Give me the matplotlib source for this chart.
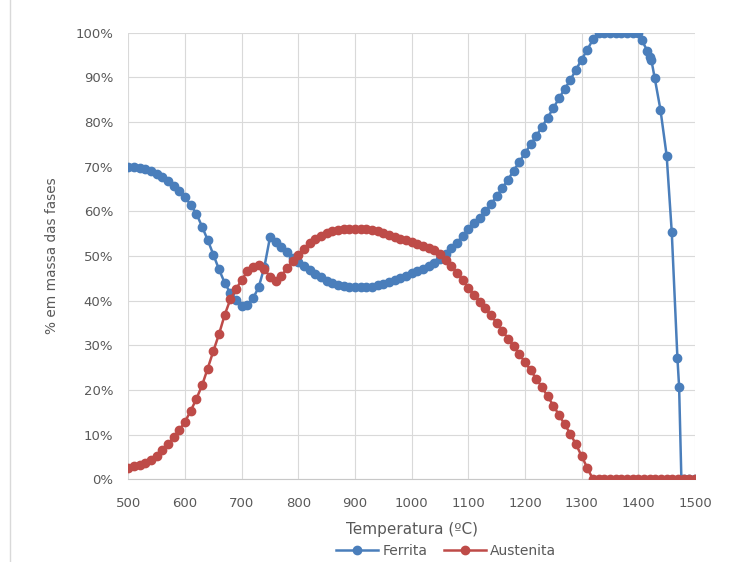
import matplotlib
matplotlib.use("Agg")
import matplotlib.pyplot as plt
from matplotlib.lines import Line2D
from matplotlib.ticker import PercentFormatter

# temperatures (ºC)
tempAustenita = list(range(500, 1510, 10))
tempFerrita = list(range(500, 1410, 10)) + [1406, 1416, 1420, 1423, 1429, 1439, 1450,
                                             1459, 1469, 1472, 1476, 1480, 1490, 1500]

# % em massa - Ferrita
ferrita = [70.0, 69.9, 69.7, 69.4, 69.0, 68.4, 67.7, 66.8, 65.7, 64.5,   # 500-590
           63.2, 61.4, 59.5, 56.6, 53.6, 50.3, 47.0, 44.0, 41.7, 40.1,   # 600-690
           38.9, 39.1, 40.5, 43.0, 47.5, 54.2, 53.2, 52.0, 50.8, 49.6,   # 700-790
           48.6, 47.7, 46.8, 46.0, 45.2, 44.5, 44.0, 43.6, 43.3, 43.1,   # 800-890
           43.0, 43.0, 43.0, 43.1, 43.4, 43.7, 44.1, 44.6, 45.1, 45.6,   # 900-990
           46.1, 46.6, 47.1, 47.7, 48.4, 49.4, 50.4, 51.7, 53.0, 54.5,   # 1000-1090
           56.0, 57.4, 58.6, 60.0, 61.6, 63.4, 65.2, 67.1, 69.1, 71.1,   # 1100-1190
           73.0, 75.0, 76.9, 78.9, 81.0, 83.1, 85.3, 87.4, 89.4, 91.7,   # 1200-1290
           94.0, 96.2, 98.5, 100.0, 100.0, 100.0, 100.0, 100.0, 100.0, 100.0,  # 1300-1390
           100.0,                                                         # 1400
           98.4, 95.9, 94.6, 93.9, 89.8, 82.8, 72.5, 55.4, 27.2, 20.7, 0.0, 0.0, 0.0, 0.0]

# % em massa - Austenita
austenita = [2.6, 2.9, 3.3, 3.7, 4.3, 5.3, 6.5, 7.9, 9.4, 11.0,          # 500-590
             12.9, 15.3, 18.0, 21.0, 24.8, 28.7, 32.5, 36.8, 40.3, 42.6,  # 600-690
             44.6, 46.6, 47.6, 47.9, 47.0, 45.4, 44.3, 45.6, 47.2, 48.8,  # 700-790
             50.2, 51.6, 52.8, 53.8, 54.5, 55.1, 55.5, 55.8, 56.0, 56.1,  # 800-890
             56.1, 56.1, 56.0, 55.9, 55.6, 55.2, 54.8, 54.3, 53.9, 53.5,  # 900-990
             53.1, 52.7, 52.3, 51.9, 51.3, 50.4, 49.2, 47.8, 46.3, 44.6,  # 1000-1090
             42.9, 41.3, 39.8, 38.3, 36.7, 35.0, 33.3, 31.5, 29.8, 28.0,  # 1100-1190
             26.2, 24.4, 22.5, 20.6, 18.6, 16.5, 14.4, 12.3, 10.2, 7.8,   # 1200-1290
             5.2, 2.5, 0.0, 0.0, 0.0, 0.0, 0.0, 0.0, 0.0, 0.0,            # 1300-1390
             0.0, 0.0, 0.0, 0.0, 0.0, 0.0, 0.0, 0.0, 0.0, 0.0, 0.0]       # 1400-1500

blue = "#4a7ebb"
red = "#be4b48"
gray = "#595959"

fig = plt.figure(figsize=(7.55, 5.62), dpi=100)
ax = fig.add_axes([0.170, 0.1472, 0.7505, 0.7946])

ax.plot(tempFerrita, ferrita, color=blue, lw=1.8, marker="o", ms=6,
        markerfacecolor=blue, markeredgecolor=blue, label="Ferrita", zorder=3)
ax.plot(tempAustenita, austenita, color=red, lw=1.8, marker="o", ms=6,
        markerfacecolor=red, markeredgecolor=red, label="Austenita", zorder=4)

ax.set_xlim(500, 1500)
ax.set_ylim(0, 100)
ax.set_xticks(range(500, 1600, 100))
ax.set_yticks(range(0, 110, 10))
ax.yaxis.set_major_formatter(PercentFormatter(decimals=0))

ax.grid(True, color="#d9d9d9", lw=0.8)
ax.set_axisbelow(True)
for side in ["top", "right", "left"]:
    ax.spines[side].set_visible(False)
ax.spines["bottom"].set_color("#c8c8c8")
ax.tick_params(length=0, labelsize=9.5, labelcolor=gray)
ax.tick_params(axis="x", pad=13)
ax.tick_params(axis="y", pad=11)

ax.set_xlabel("Temperatura (ºC)", fontsize=11, color=gray)
ax.xaxis.label.set_va("center")
ax.xaxis.set_label_coords(0.5, -0.1135)
ax.set_ylabel("% em massa das fases", fontsize=9.8, color=gray)
ax.yaxis.label.set_va("center")
ax.yaxis.set_label_coords(-0.1346, 0.5)

leg = fig.legend(loc="center", bbox_to_anchor=(0.591, 0.019), ncol=2, frameon=False,
                 fontsize=10, handlelength=3, columnspacing=1.2, handletextpad=0.3)
for t in leg.get_texts():
    t.set_color(gray)

# chart area border on the left
fig.add_artist(Line2D([10 / 755, 10 / 755], [0, 1], color="#d9d9d9", lw=1))

fig.savefig("out.png", dpi=100)
